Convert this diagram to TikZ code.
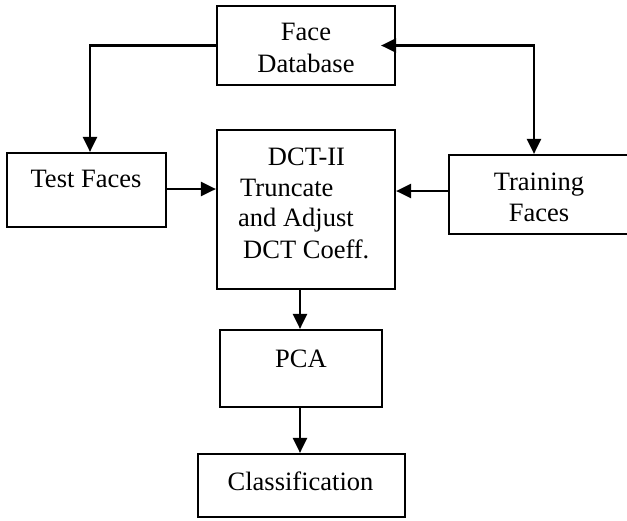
\documentclass[tikz,border=0pt]{standalone}
\usepackage{fontspec}
\setmainfont{Liberation Serif}
\usetikzlibrary{arrows.meta}
\begin{document}
\begin{tikzpicture}[x=1pt,y=-1pt,
  box/.style={draw, line width=2.2pt, rectangle, inner sep=0pt},
  txt/.style={font=\fontsize{26.5}{31}\selectfont, inner sep=0pt, anchor=base},
  txtl/.style={txt, anchor=base west},
  conn/.style={line width=2.4pt, -{Triangle[length=15pt,width=14pt]}}]
\useasboundingbox (0,0) rectangle (627,520);
\clip (0,0) rectangle (627,520);
% boxes
\node[box, minimum width=178pt, minimum height=79pt] (fdb) at (306,45.5) {};
\node[box, minimum width=159pt, minimum height=74pt] (tf) at (86.5,190) {};
\node[box, minimum width=178pt, minimum height=159pt] (dct) at (306,209.5) {};
\node[box, minimum width=183pt, minimum height=79pt] (tr) at (540.5,194.5) {};
\node[box, minimum width=162pt, minimum height=77pt] (pca) at (301,368.5) {};
\node[box, minimum width=207pt, minimum height=63pt] (cls) at (301.5,485.5) {};
% texts
\node[txt] (fdbA) at (306,40) {Face};
\node[txt] (fdbB) at (306,72) {Database};
\node[txt] (tfA) at (86,187) {Test Faces};
\node[txt] (dctA) at (306.5,165) {DCT-II};
\node[txtl] (dctB) at (240,196) {Truncate};
\node[txtl] (dctC) at (238,226) {and Adjust};
\node[txtl] (dctD) at (243,258) {DCT Coeff.};
\node[txt] (trA) at (539,190) {Training};
\node[txt] (trB) at (539,221) {Faces};
\node[txt] (pcaA) at (301,367) {PCA};
\node[txt] (clsA) at (300.5,490) {Classification};
% connectors
\coordinate (tfin) at (90,0);
\coordinate (trin) at (534,0);
\draw[conn] (fdb.west) -| (tfin |- tf.north);
\draw[conn, {Triangle[length=15pt,width=14pt]}-{Triangle[length=15pt,width=14pt]}, shorten <=-15pt] (fdb.east) -| (trin |- tr.north);
\coordinate (tfy) at (0,189);
\draw[conn] (tf.east |- tfy) -- (dct.west |- tfy);
\coordinate (try) at (0,191);
\draw[conn] (tr.west |- try) -- (dct.east |- try);
\coordinate (pcx) at (300,0);
\draw[conn] (pcx |- dct.south) -- (pcx |- pca.north);
\draw[conn] (pcx |- pca.south) -- (pcx |- cls.north);
\end{tikzpicture}
\end{document}
